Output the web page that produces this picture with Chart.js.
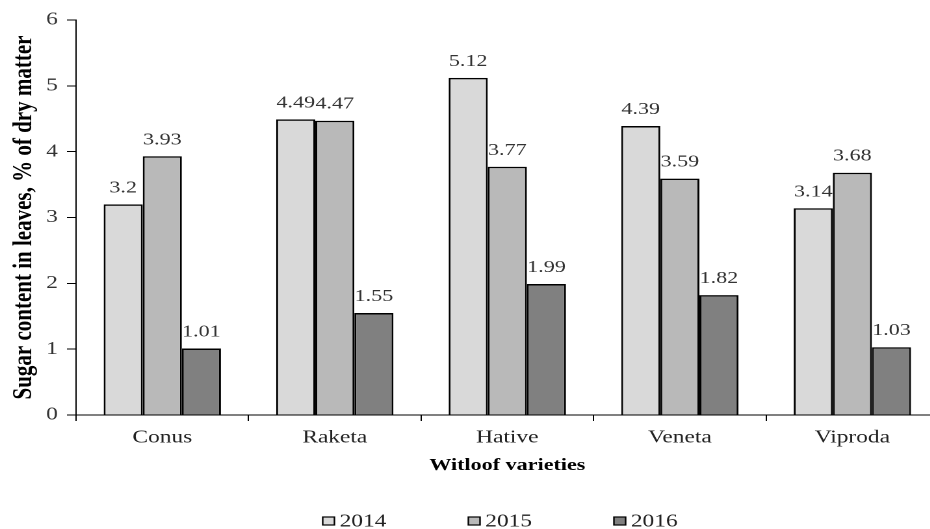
<!DOCTYPE html>
<html>
<head>
<meta charset="utf-8">
<title>Sugar content in leaves</title>
<script src="https://cdn.jsdelivr.net/npm/chart.js@4/dist/chart.umd.min.js"></script>
<style>
    html, body { margin: 0; padding: 0; background: #fff; overflow: hidden; }
    /* el gráfico original está estirado en horizontal */
    #contenedor { position: relative; width: 724px; height: 529px; transform: scaleX(1.3); transform-origin: 0 0; }
</style>
</head>
<body>
<div id="contenedor"><canvas id="grafico-azucar"></canvas></div>
<script>
// Datos
const variedades = ['Conus', 'Raketa', 'Hative', 'Veneta', 'Viproda'];
const anios = ['2014', '2015', '2016'];
const azucar2014 = [3.2, 4.49, 5.12, 4.39, 3.14];
const azucar2015 = [3.93, 4.47, 3.77, 3.59, 3.68];
const azucar2016 = [1.01, 1.55, 1.99, 1.82, 1.03];
const ticksY = [0, 1, 2, 3, 4, 5, 6];

const colores = ['#d9d9d9', '#b9b9b9', '#808080'];
const fuente = '"Liberation Serif", "Times New Roman", serif';

(function() {
    Chart.defaults.font.family = fuente;
    Chart.defaults.color = '#222';

    // Etiquetas de valor encima de cada barra
    const etiquetasValores = {
        id: 'etiquetasValores',
        afterDatasetsDraw(chart) {
            const ctx = chart.ctx;
            ctx.save();
            ctx.font = '17px ' + fuente;
            ctx.fillStyle = '#333';
            ctx.textAlign = 'center';
            ctx.textBaseline = 'alphabetic';
            chart.data.datasets.forEach((ds, i) => {
                chart.getDatasetMeta(i).data.forEach((barra, j) => {
                    ctx.fillText(String(ds.data[j]), barra.x, barra.y - 12);
                });
            });
            ctx.restore();
        }
    };

    // Leyenda con mucho espacio entre elementos
    const leyendaAnios = {
        id: 'leyendaAnios',
        afterDraw(chart) {
            const {ctx, chartArea} = chart;
            const paso = 112;
            const inicio = (chartArea.left + chartArea.right) / 2 - 142;
            const y = 521;
            ctx.save();
            ctx.font = '18px ' + fuente;
            ctx.textAlign = 'left';
            ctx.textBaseline = 'middle';
            chart.data.datasets.forEach((ds, i) => {
                const x = inicio + i * paso;
                ctx.fillStyle = ds.backgroundColor;
                ctx.fillRect(x, y - 4, 9, 8);
                ctx.strokeStyle = '#000';
                ctx.lineWidth = 1.2;
                ctx.strokeRect(x, y - 4, 9, 8);
                ctx.fillStyle = '#222';
                ctx.fillText(ds.label, x + 13, y + 1);
            });
            ctx.restore();
        }
    };

    function crearGrafico() {
        const ctx = document.getElementById('grafico-azucar');
        const series = [azucar2014, azucar2015, azucar2016];
        new Chart(ctx, {
            type: 'bar',
            data: {
                labels: variedades,
                datasets: anios.map((anio, i) => ({
                    label: anio,
                    data: series[i],
                    backgroundColor: colores[i],
                    borderColor: '#000',
                    borderWidth: 1.5,
                    categoryPercentage: 0.68,
                    barPercentage: 1.0
                }))
            },
            options: {
                responsive: true,
                maintainAspectRatio: false,
                devicePixelRatio: 2,
                animation: false,
                layout: { padding: { top: 20, left: 0, right: 2, bottom: 40 } },
                plugins: {
                    legend: { display: false },
                    tooltip: { enabled: false }
                },
                scales: {
                    x: {
                        afterFit: (escala) => { escala.height = 74; },
                        border: { color: '#000', width: 1 },
                        grid: { drawOnChartArea: false, drawTicks: true, tickLength: 6, color: '#000' },
                        ticks: { padding: 6, color: '#222', font: { size: 18 } },
                        title: {
                            display: true,
                            text: 'Witloof varieties',
                            color: '#000',
                            font: { size: 17, weight: 'bold' },
                            padding: { top: 0, bottom: 13 }
                        }
                    },
                    y: {
                        min: 0,
                        max: 6,
                        afterFit: (escala) => { escala.width = 58.5; },
                        afterBuildTicks: (escala) => { escala.ticks = ticksY.map(v => ({ value: v })); },
                        border: { color: '#000', width: 1 },
                        grid: { drawOnChartArea: false, drawTicks: true, tickLength: 7, color: '#000' },
                        ticks: { padding: 7, color: '#333', font: { size: 18 } },
                        title: {
                            display: true,
                            text: 'Sugar content in leaves, % of dry matter',
                            color: '#000',
                            font: { size: 21, weight: 'bold' },
                            padding: { top: 6, bottom: 0 }
                        }
                    }
                }
            },
            plugins: [etiquetasValores, leyendaAnios]
        });
    }

    if (document.readyState === 'loading') {
        document.addEventListener('DOMContentLoaded', crearGrafico);
    } else {
        crearGrafico();
    }
})();
</script>
</body>
</html>
